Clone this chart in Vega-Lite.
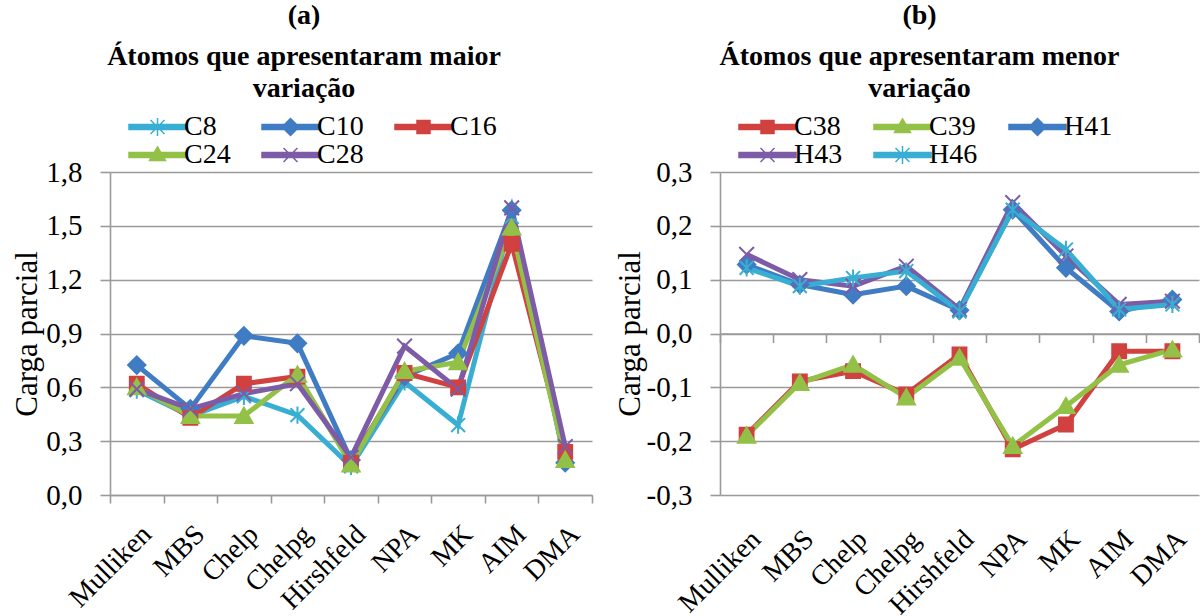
{
  "$schema": "https://vega.github.io/schema/vega-lite/v6.json",
  "padding": {"left": 11, "top": 2, "right": 0, "bottom": 0},
  "background": "white",
  "spacing": 21,
  "config": {
    "font": "Liberation Serif",
    "view": {"stroke": null},
    "axis": {
      "labelFont": "Liberation Serif", "titleFont": "Liberation Serif",
      "labelColor": "#000000", "titleColor": "#000000",
      "domainColor": "#9a9a9a", "tickColor": "#9a9a9a", "gridColor": "#9a9a9a",
      "domainWidth": 1.6, "tickWidth": 1.6, "gridWidth": 1.6,
      "titleFontWeight": "normal", "labelFontSize": 29, "titleFontSize": 31
    },
    "legend": {
      "orient": "top", "direction": "horizontal", "columns": 3,
      "columnPadding": 12, "rowPadding": 0, "labelFont": "Liberation Serif",
      "labelFontSize": 28, "labelColor": "#000000", "labelOffset": 46,
      "symbolSize": 400, "symbolStrokeWidth": 1.5, "symbolOpacity": 1, "offset": 3, "title": null
    },
    "title": {
      "font": "Liberation Serif", "fontSize": 28, "fontWeight": "bold", "color": "#000000",
      "lineHeight": 28, "anchor": "middle", "offset": 10,
      "subtitleFont": "Liberation Serif", "subtitleFontSize": 28, "subtitleFontWeight": "bold", "subtitleColor": "#000000",
      "subtitleLineHeight": 32, "subtitlePadding": 13
    }
  },
  "resolve": {
    "scale": {"x": "independent", "y": "independent", "fill": "independent", "stroke": "independent", "shape": "independent"},
    "legend": {"fill": "independent", "stroke": "independent", "shape": "independent"}
  },
  "hconcat": [
    {
      "width": 482,
      "height": 323,
      "title": {"text": "(a)", "subtitle": ["Átomos que apresentaram maior", "variação"], "dx": -47},
      "data": {"values": [
        {"m": "Mulliken", "s": "C8", "v": 0.585}, {"m": "MBS", "s": "C8", "v": 0.44}, {"m": "Chelp", "s": "C8", "v": 0.55}, {"m": "Chelpg", "s": "C8", "v": 0.445}, {"m": "Hirshfeld", "s": "C8", "v": 0.16}, {"m": "NPA", "s": "C8", "v": 0.63}, {"m": "MK", "s": "C8", "v": 0.39}, {"m": "AIM", "s": "C8", "v": 1.55}, {"m": "DMA", "s": "C8", "v": 0.195},
        {"m": "Mulliken", "s": "C10", "v": 0.724}, {"m": "MBS", "s": "C10", "v": 0.48}, {"m": "Chelp", "s": "C10", "v": 0.887}, {"m": "Chelpg", "s": "C10", "v": 0.845}, {"m": "Hirshfeld", "s": "C10", "v": 0.195}, {"m": "NPA", "s": "C10", "v": 0.66}, {"m": "MK", "s": "C10", "v": 0.79}, {"m": "AIM", "s": "C10", "v": 1.587}, {"m": "DMA", "s": "C10", "v": 0.18},
        {"m": "Mulliken", "s": "C16", "v": 0.62}, {"m": "MBS", "s": "C16", "v": 0.43}, {"m": "Chelp", "s": "C16", "v": 0.62}, {"m": "Chelpg", "s": "C16", "v": 0.66}, {"m": "Hirshfeld", "s": "C16", "v": 0.18}, {"m": "NPA", "s": "C16", "v": 0.68}, {"m": "MK", "s": "C16", "v": 0.6}, {"m": "AIM", "s": "C16", "v": 1.4}, {"m": "DMA", "s": "C16", "v": 0.24},
        {"m": "Mulliken", "s": "C24", "v": 0.6}, {"m": "MBS", "s": "C24", "v": 0.44}, {"m": "Chelp", "s": "C24", "v": 0.44}, {"m": "Chelpg", "s": "C24", "v": 0.67}, {"m": "Hirshfeld", "s": "C24", "v": 0.17}, {"m": "NPA", "s": "C24", "v": 0.69}, {"m": "MK", "s": "C24", "v": 0.74}, {"m": "AIM", "s": "C24", "v": 1.49}, {"m": "DMA", "s": "C24", "v": 0.195},
        {"m": "Mulliken", "s": "C28", "v": 0.59}, {"m": "MBS", "s": "C28", "v": 0.48}, {"m": "Chelp", "s": "C28", "v": 0.565}, {"m": "Chelpg", "s": "C28", "v": 0.62}, {"m": "Hirshfeld", "s": "C28", "v": 0.21}, {"m": "NPA", "s": "C28", "v": 0.83}, {"m": "MK", "s": "C28", "v": 0.59}, {"m": "AIM", "s": "C28", "v": 1.6}, {"m": "DMA", "s": "C28", "v": 0.27}
      ]},
      "encoding": {
        "x": {
          "field": "m", "type": "nominal", "bandPosition": 0.5,
          "scale": {"type": "band", "domain": ["Mulliken", "MBS", "Chelp", "Chelpg", "Hirshfeld", "NPA", "MK", "AIM", "DMA"], "paddingInner": 0, "paddingOuter": 0},
          "axis": {"title": null, "orient": "bottom", "tickBand": "extent", "tickSize": 8, "labelAngle": -45, "labelPadding": 17, "labelFontSize": 28, "grid": false, "domain": true}
        },
        "y": {
          "field": "v", "type": "quantitative",
          "scale": {"domain": [0, 1.8], "nice": false, "zero": false},
          "axis": {"title": "Carga parcial", "values": [0, 0.3, 0.6, 0.9, 1.2, 1.5, 1.8], "labelExpr": "replace(format(datum.value, '.1f'), '.', ',')", "tickSize": 10, "labelPadding": 18, "titlePadding": 2, "grid": true}
        }
      },
      "resolve": {"scale": {"fill": "independent", "stroke": "independent", "shape": "independent"}, "legend": {"fill": "independent", "stroke": "independent", "shape": "independent"}},
      "layer": [
        {
          "mark": {"type": "line", "strokeWidth": 5},
          "encoding": {
            "stroke": {"field": "s", "type": "nominal", "legend": null,
              "scale": {"domain": ["C8", "C10", "C16", "C24", "C28"], "range": ["#38afd2", "#3f7cc3", "#d0413f", "#93c148", "#7d5ba6"]}},
            "order": {"value": null}
          }
        },
        {
          "mark": {"type": "point", "filled": true, "opacity": 1, "strokeWidth": 2, "size": 300},
          "encoding": {
            "fill": {"field": "s", "type": "nominal", "legend": null,
              "scale": {"domain": ["C8", "C10", "C16", "C24", "C28"], "range": ["#38afd2", "#3f7cc3", "#d0413f", "#93c148", "#7d5ba6"]}},
            "stroke": {"field": "s", "type": "nominal", "legend": null,
              "scale": {"domain": ["C8", "C10", "C16", "C24", "C28"], "range": ["#38afd2", "#3f7cc3", "#d0413f", "#93c148", "#7d5ba6"]}},
            "shape": {"field": "s", "type": "nominal", "legend": null,
              "scale": {"domain": ["C8", "C10", "C16", "C24", "C28"], "range": [
                "M-0.8,-0.8L0.8,0.8M-0.8,0.8L0.8,-0.8M0,-1V1",
                "M0,-1L1,0L0,1L-1,0Z",
                "M-0.8,-0.8H0.8V0.8H-0.8Z",
                "M0,-0.95L1,0.8H-1Z",
                "M-0.85,-0.85L0.85,0.85M-0.85,0.85L0.85,-0.85"
              ]}}
          }
        },
        {
          "mark": {"type": "point", "filled": true, "opacity": 0, "strokeWidth": 1.5},
          "encoding": {
            "fill": {"field": "s", "type": "nominal",
              "scale": {"domain": ["C8", "C10", "C16", "C24", "C28"], "range": ["#38afd2", "#3f7cc3", "#d0413f", "#93c148", "#7d5ba6"]}},
            "stroke": {"field": "s", "type": "nominal",
              "scale": {"domain": ["C8", "C10", "C16", "C24", "C28"], "range": ["#38afd2", "#3f7cc3", "#d0413f", "#93c148", "#7d5ba6"]}},
            "shape": {"field": "s", "type": "nominal",
              "scale": {"domain": ["C8", "C10", "C16", "C24", "C28"], "range": [
                "M0.5,-0.25H6.2V0.25H0.5ZM2.65,-0.7L4.05,0.7M2.65,0.7L4.05,-0.7M3.35,-0.9V0.9",
                "M0.5,-0.25H6.2V0.25H0.5ZM3.35,-0.85L4.2,0L3.35,0.85L2.5,0Z",
                "M0.5,-0.25H6.2V0.25H0.5ZM2.7,-0.65H4V0.65H2.7Z",
                "M0.5,-0.25H6.2V0.25H0.5ZM3.35,-0.8L4.15,0.55H2.55Z",
                "M0.5,-0.25H6.2V0.25H0.5ZM2.65,-0.7L4.05,0.7M2.65,0.7L4.05,-0.7"
              ]}}
          }
        }
      ]
    },
    {
      "width": 479,
      "height": 323,
      "title": {"text": "(b)", "subtitle": ["Átomos que apresentaram menor", "variação"], "dx": -40},
      "data": {"values": [
        {"m": "Mulliken", "s": "C38", "v": -0.188}, {"m": "MBS", "s": "C38", "v": -0.089}, {"m": "Chelp", "s": "C38", "v": -0.07}, {"m": "Chelpg", "s": "C38", "v": -0.113}, {"m": "Hirshfeld", "s": "C38", "v": -0.039}, {"m": "NPA", "s": "C38", "v": -0.215}, {"m": "MK", "s": "C38", "v": -0.169}, {"m": "AIM", "s": "C38", "v": -0.033}, {"m": "DMA", "s": "C38", "v": -0.033},
        {"m": "Mulliken", "s": "C39", "v": -0.19}, {"m": "MBS", "s": "C39", "v": -0.092}, {"m": "Chelp", "s": "C39", "v": -0.058}, {"m": "Chelpg", "s": "C39", "v": -0.119}, {"m": "Hirshfeld", "s": "C39", "v": -0.045}, {"m": "NPA", "s": "C39", "v": -0.209}, {"m": "MK", "s": "C39", "v": -0.135}, {"m": "AIM", "s": "C39", "v": -0.058}, {"m": "DMA", "s": "C39", "v": -0.03},
        {"m": "Mulliken", "s": "H41", "v": 0.128}, {"m": "MBS", "s": "H41", "v": 0.091}, {"m": "Chelp", "s": "H41", "v": 0.072}, {"m": "Chelpg", "s": "H41", "v": 0.088}, {"m": "Hirshfeld", "s": "H41", "v": 0.043}, {"m": "NPA", "s": "H41", "v": 0.23}, {"m": "MK", "s": "H41", "v": 0.122}, {"m": "AIM", "s": "H41", "v": 0.041}, {"m": "DMA", "s": "H41", "v": 0.063},
        {"m": "Mulliken", "s": "H43", "v": 0.147}, {"m": "MBS", "s": "H43", "v": 0.1}, {"m": "Chelp", "s": "H43", "v": 0.088}, {"m": "Chelpg", "s": "H43", "v": 0.125}, {"m": "Hirshfeld", "s": "H43", "v": 0.045}, {"m": "NPA", "s": "H43", "v": 0.243}, {"m": "MK", "s": "H43", "v": 0.144}, {"m": "AIM", "s": "H43", "v": 0.054}, {"m": "DMA", "s": "H43", "v": 0.06},
        {"m": "Mulliken", "s": "H46", "v": 0.122}, {"m": "MBS", "s": "H46", "v": 0.088}, {"m": "Chelp", "s": "H46", "v": 0.103}, {"m": "Chelpg", "s": "H46", "v": 0.116}, {"m": "Hirshfeld", "s": "H46", "v": 0.041}, {"m": "NPA", "s": "H46", "v": 0.23}, {"m": "MK", "s": "H46", "v": 0.156}, {"m": "AIM", "s": "H46", "v": 0.045}, {"m": "DMA", "s": "H46", "v": 0.054}
      ]},
      "encoding": {
        "y": {
          "field": "v", "type": "quantitative",
          "scale": {"domain": [-0.3, 0.3], "nice": false, "zero": false},
          "axis": {"title": "Carga parcial", "values": [-0.3, -0.2, -0.1, 0, 0.1, 0.2, 0.3], "labelExpr": "(datum.value < -0.0001 ? '-' : '') + replace(format(abs(datum.value), '.1f'), '.', ',')", "tickSize": 10, "labelPadding": 18, "titlePadding": 0, "grid": true}
        }
      },
      "resolve": {"scale": {"x": "independent", "fill": "independent", "stroke": "independent", "shape": "independent"}, "axis": {"x": "independent"}, "legend": {"fill": "independent", "stroke": "independent", "shape": "independent"}},
      "layer": [
        {
          "mark": {"type": "line", "strokeWidth": 5},
          "encoding": {
            "x": {
              "field": "m", "type": "nominal", "bandPosition": 0.5,
              "scale": {"type": "band", "domain": ["Mulliken", "MBS", "Chelp", "Chelpg", "Hirshfeld", "NPA", "MK", "AIM", "DMA"], "paddingInner": 0, "paddingOuter": 0},
              "axis": {"title": null, "orient": "bottom", "ticks": false, "domain": false, "labelAngle": -45, "labelPadding": 30, "labelFontSize": 28, "grid": false}
            },
            "stroke": {"field": "s", "type": "nominal", "legend": null,
              "scale": {"domain": ["C38", "C39", "H41", "H43", "H46"], "range": ["#d0413f", "#93c148", "#3f7cc3", "#7d5ba6", "#38afd2"]}},
            "order": {"value": null}
          }
        },
        {
          "mark": {"type": "point", "filled": true, "opacity": 1, "strokeWidth": 2, "size": 300},
          "encoding": {
            "x": {
              "field": "m", "type": "nominal", "bandPosition": 0.5,
              "scale": {"type": "band", "domain": ["Mulliken", "MBS", "Chelp", "Chelpg", "Hirshfeld", "NPA", "MK", "AIM", "DMA"], "paddingInner": 0, "paddingOuter": 0},
              "axis": {"title": null, "orient": "bottom", "offset": -161.5, "labels": false, "ticks": true, "tickBand": "extent", "tickSize": 9, "domain": true, "grid": false}
            },
            "fill": {"field": "s", "type": "nominal", "legend": null,
              "scale": {"domain": ["C38", "C39", "H41", "H43", "H46"], "range": ["#d0413f", "#93c148", "#3f7cc3", "#7d5ba6", "#38afd2"]}},
            "stroke": {"field": "s", "type": "nominal", "legend": null,
              "scale": {"domain": ["C38", "C39", "H41", "H43", "H46"], "range": ["#d0413f", "#93c148", "#3f7cc3", "#7d5ba6", "#38afd2"]}},
            "shape": {"field": "s", "type": "nominal", "legend": null,
              "scale": {"domain": ["C38", "C39", "H41", "H43", "H46"], "range": [
                "M-0.8,-0.8H0.8V0.8H-0.8Z",
                "M0,-0.95L1,0.8H-1Z",
                "M0,-1L1,0L0,1L-1,0Z",
                "M-0.85,-0.85L0.85,0.85M-0.85,0.85L0.85,-0.85",
                "M-0.8,-0.8L0.8,0.8M-0.8,0.8L0.8,-0.8M0,-1V1"
              ]}}
          }
        },
        {
          "mark": {"type": "point", "filled": true, "opacity": 0, "strokeWidth": 1.5},
          "encoding": {
            "x": {
              "field": "m", "type": "nominal", "bandPosition": 0.5, "axis": null,
              "scale": {"type": "band", "domain": ["Mulliken", "MBS", "Chelp", "Chelpg", "Hirshfeld", "NPA", "MK", "AIM", "DMA"], "paddingInner": 0, "paddingOuter": 0}
            },
            "fill": {"field": "s", "type": "nominal",
              "scale": {"domain": ["C38", "C39", "H41", "H43", "H46"], "range": ["#d0413f", "#93c148", "#3f7cc3", "#7d5ba6", "#38afd2"]}},
            "stroke": {"field": "s", "type": "nominal",
              "scale": {"domain": ["C38", "C39", "H41", "H43", "H46"], "range": ["#d0413f", "#93c148", "#3f7cc3", "#7d5ba6", "#38afd2"]}},
            "shape": {"field": "s", "type": "nominal",
              "scale": {"domain": ["C38", "C39", "H41", "H43", "H46"], "range": [
                "M0.5,-0.25H6.2V0.25H0.5ZM2.7,-0.65H4V0.65H2.7Z",
                "M0.5,-0.25H6.2V0.25H0.5ZM3.35,-0.8L4.15,0.55H2.55Z",
                "M0.5,-0.25H6.2V0.25H0.5ZM3.35,-0.85L4.2,0L3.35,0.85L2.5,0Z",
                "M0.5,-0.25H6.2V0.25H0.5ZM2.65,-0.7L4.05,0.7M2.65,0.7L4.05,-0.7",
                "M0.5,-0.25H6.2V0.25H0.5ZM2.65,-0.7L4.05,0.7M2.65,0.7L4.05,-0.7M3.35,-0.9V0.9"
              ]}}
          }
        }
      ]
    }
  ]
}
